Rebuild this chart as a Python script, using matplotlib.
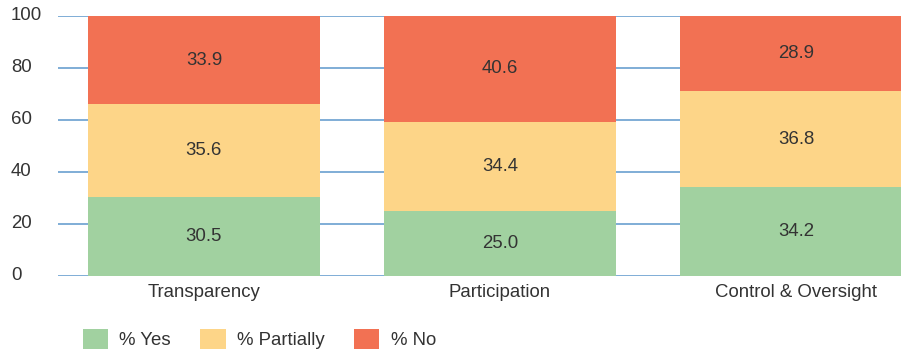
import numpy as np
import matplotlib.pyplot as plt
from matplotlib.patches import Patch

plt.rcParams['font.family'] = ['Liberation Sans', 'DejaVu Sans']

# survey shares per dimension (%)
categories = ["Transparency", "Participation", "Control & Oversight"]
yes = [30.5, 25.0, 34.2]
partially = [35.6, 34.4, 36.8]
no = [33.9, 40.6, 28.9]
series_names = ["% Yes", "% Partially", "% No"]
colors = ["#a1d1a0", "#fdd588", "#f27153"]
txt = "#333333"
fs = 13.4

fig = plt.figure(figsize=(9.01, 3.56), dpi=100)
ax = fig.add_axes([58/901, 1 - 276/356, 1 - 58/901, 260/356])

x = np.arange(len(categories))
w = 0.784
bottom = np.zeros(len(categories))
for vals, c in zip([yes, partially, no], colors):
    vals = np.array(vals)
    ax.bar(x, vals, w, bottom=bottom, color=c, zorder=2)
    for xi, b, v in zip(x, bottom, vals):
        ax.text(xi, b + v/2, f"{v:.1f}", ha='center', va='center',
                fontsize=fs, color=txt, zorder=3)
    bottom += vals

ax.set_xlim(-0.493, 2.355)
ax.set_ylim(0, 100)
ax.set_yticks(range(0, 101, 20))
ax.yaxis.grid(True, color="#6a9fd0", linewidth=1.2, zorder=0)
for s in ax.spines.values():
    s.set_visible(False)
ax.tick_params(axis='y', length=0, pad=34, labelsize=fs, labelcolor=txt)
for lab in ax.get_yticklabels():
    lab.set_horizontalalignment('left')
    lab.set_verticalalignment('center')
ax.set_xticks(x)
ax.set_xticklabels(categories)
ax.tick_params(axis='x', length=0, pad=6, labelsize=fs, labelcolor=txt)

handles = [Patch(facecolor=c, edgecolor='none') for c in colors]
fig.legend(handles, series_names, loc='center left', bbox_to_anchor=(66/901, 1 - 339/356),
           ncol=3, frameon=False, fontsize=fs, labelcolor=txt,
           handlelength=1.35, handleheight=1.3, handletextpad=0.6, columnspacing=1.6)

fig.savefig("out.png", dpi=100)
